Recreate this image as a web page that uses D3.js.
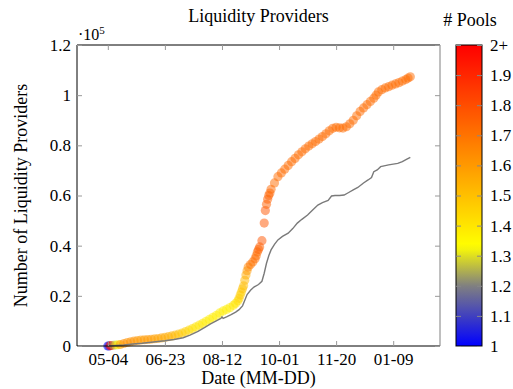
<!DOCTYPE html>
<html>
<head>
<meta charset="utf-8">
<script src="https://cdn.jsdelivr.net/npm/d3@7"></script>
<style>
  body { margin: 0; background: #fff; }
</style>
</head>
<body>
<svg id="chart"></svg>
<script>
// Canvas size
const width = 513;
const height = 389;
const serif = '"Liberation Serif", "Times New Roman", serif';

// Liquidity providers over time (scatter, coloured by pools per provider)
const lpDates = ["2020-05-04","2020-05-05","2020-05-06","2020-05-07","2020-05-09","2020-05-11","2020-05-13","2020-05-15",
  "2020-05-18","2020-05-21","2020-05-24","2020-05-27","2020-05-30","2020-06-02","2020-06-05","2020-06-08","2020-06-11",
  "2020-06-14","2020-06-17","2020-06-20","2020-06-23","2020-06-26","2020-06-29","2020-07-02","2020-07-05","2020-07-08",
  "2020-07-11","2020-07-14","2020-07-17","2020-07-20","2020-07-23","2020-07-26","2020-07-29","2020-08-01","2020-08-04",
  "2020-08-07","2020-08-10","2020-08-13","2020-08-16","2020-08-19","2020-08-22","2020-08-24","2020-08-26","2020-08-27",
  "2020-08-28","2020-08-29","2020-08-30","2020-08-31","2020-09-01","2020-09-02","2020-09-03","2020-09-04","2020-09-06",
  "2020-09-08","2020-09-10","2020-09-11","2020-09-12","2020-09-13","2020-09-14","2020-09-16","2020-09-18","2020-09-19",
  "2020-09-20","2020-09-21","2020-09-22","2020-09-23","2020-09-24","2020-09-27","2020-09-30","2020-10-03","2020-10-06",
  "2020-10-09","2020-10-12","2020-10-15","2020-10-18","2020-10-21","2020-10-24","2020-10-27","2020-10-30","2020-11-02",
  "2020-11-05","2020-11-08","2020-11-11","2020-11-14","2020-11-17","2020-11-20","2020-11-23","2020-11-26","2020-11-29",
  "2020-12-02","2020-12-05","2020-12-08","2020-12-11","2020-12-14","2020-12-17","2020-12-20","2020-12-23","2020-12-25",
  "2020-12-27","2020-12-30","2021-01-02","2021-01-05","2021-01-08","2021-01-11","2021-01-14","2021-01-17","2021-01-20",
  "2021-01-22","2021-01-24"];
// values in units of 10^5
const lpCounts = [0.000,0.000,0.001,0.002,0.003,0.004,0.005,0.006,
  0.010,0.014,0.017,0.020,0.022,0.024,0.025,0.026,0.027,
  0.029,0.030,0.032,0.034,0.037,0.040,0.043,0.047,0.051,
  0.057,0.063,0.069,0.076,0.083,0.090,0.098,0.106,0.114,
  0.122,0.132,0.140,0.146,0.153,0.162,0.170,0.180,0.190,
  0.203,0.215,0.228,0.240,0.262,0.283,0.300,0.315,0.325,
  0.335,0.348,0.360,0.375,0.385,0.395,0.420,0.490,0.540,
  0.565,0.585,0.600,0.610,0.625,0.650,0.675,0.690,0.705,
  0.720,0.735,0.748,0.762,0.774,0.786,0.797,0.806,0.815,
  0.825,0.835,0.846,0.858,0.868,0.872,0.870,0.869,0.874,
  0.886,0.900,0.918,0.935,0.949,0.962,0.975,0.988,1.000,
  1.013,1.022,1.029,1.034,1.040,1.045,1.050,1.056,1.062,
  1.068,1.073];
const lpPools = [1.0,1.05,2.0,1.9,1.25,1.3,1.35,1.6,
  1.62,1.62,1.62,1.62,1.6,1.6,1.6,1.6,1.6,
  1.58,1.58,1.57,1.56,1.55,1.53,1.52,1.5,1.48,
  1.46,1.44,1.42,1.4,1.4,1.4,1.38,1.38,1.38,
  1.38,1.38,1.38,1.38,1.38,1.4,1.4,1.42,1.45,
  1.48,1.45,1.5,1.5,1.52,1.55,1.6,1.65,1.7,
  1.7,1.72,1.72,1.72,1.75,1.75,1.78,1.78,1.78,
  1.75,1.75,1.75,1.74,1.73,1.72,1.72,1.72,1.72,
  1.72,1.72,1.72,1.72,1.72,1.72,1.72,1.72,1.72,
  1.72,1.72,1.72,1.72,1.72,1.72,1.72,1.72,1.72,
  1.72,1.72,1.72,1.72,1.72,1.72,1.72,1.72,1.72,
  1.72,1.72,1.72,1.72,1.72,1.72,1.72,1.72,1.72,
  1.72,1.72];

// Gray reference line
const otherDates = ["2020-05-04","2020-05-11","2020-05-18","2020-05-26","2020-06-03","2020-06-13","2020-06-23","2020-07-01",
  "2020-07-09","2020-07-15","2020-07-22","2020-07-28","2020-08-02","2020-08-07","2020-08-11","2020-08-12","2020-08-13",
  "2020-08-16","2020-08-20","2020-08-24","2020-08-27","2020-08-30","2020-09-01","2020-09-03","2020-09-06","2020-09-09",
  "2020-09-13","2020-09-16","2020-09-18","2020-09-20","2020-09-22","2020-09-24","2020-09-27","2020-09-30","2020-10-04",
  "2020-10-09","2020-10-13","2020-10-17","2020-10-21","2020-10-26","2020-10-30","2020-11-04","2020-11-08","2020-11-13",
  "2020-11-16","2020-11-19","2020-11-23","2020-11-27","2020-12-01","2020-12-05","2020-12-09","2020-12-14","2020-12-18",
  "2020-12-21","2020-12-23","2020-12-26","2020-12-29","2021-01-01","2021-01-05","2021-01-09","2021-01-13","2021-01-17",
  "2021-01-21","2021-01-24"];
const otherCounts = [0.000,0.002,0.004,0.008,0.011,0.016,0.021,0.026,
  0.033,0.043,0.058,0.074,0.088,0.100,0.110,0.116,0.110,
  0.116,0.125,0.135,0.145,0.160,0.182,0.205,0.222,0.235,
  0.245,0.258,0.290,0.330,0.360,0.383,0.405,0.423,0.437,
  0.450,0.468,0.490,0.505,0.522,0.540,0.562,0.572,0.580,
  0.598,0.600,0.600,0.602,0.612,0.622,0.632,0.650,0.662,
  0.672,0.695,0.702,0.715,0.718,0.722,0.725,0.728,0.735,
  0.745,0.752];

// Axis ticks
const xTickDates = ["2020-05-04","2020-06-23","2020-08-12","2020-10-01","2020-11-20","2021-01-09"];
const yTickValues = [0, 0.2, 0.4, 0.6, 0.8, 1, 1.2];
const cbTickValues = [1, 1.1, 1.2, 1.3, 1.4, 1.5, 1.6, 1.7, 1.8, 1.9, 2];
const cbStops = [1, 1.2, 1.333, 1.667, 2];
const cbColors = ["#0000ff", "#808080", "#ffff00", "#ff8000", "#ff0000"];

const parse = d3.utcParse("%Y-%m-%d");

// Plot area
const plot = { left: 77, right: 440, top: 45, bottom: 346 };
const cb = { left: 456, right: 482 };

const svg = d3.select("#chart")
    .attr("width", width)
    .attr("height", height)
    .style("font-family", serif);

const xScale = d3.scaleUtc()
    .domain([parse("2020-04-07"), parse("2021-02-19")])
    .range([plot.left, plot.right]);

const yScale = d3.scaleLinear()
    .domain([0, 1.2])
    .range([plot.bottom, plot.top]);

const colorScale = d3.scaleLinear()
    .domain(cbStops)
    .range(cbColors)
    .clamp(true);

const fmt = d3.utcFormat("%m-%d");
const tickFont = 17;
const labelFont = 18;

// style axis text the same way everywhere
function styleAxis(g, tickColor) {
    g.attr("font-family", null).attr("font-size", null);
    g.select(".domain").remove();
    g.selectAll(".tick line").attr("stroke", tickColor);
    g.selectAll(".tick text")
        .attr("fill", "#000")
        .style("font-family", serif)
        .style("font-size", tickFont + "px");
}

// Scatter points
const lpData = lpDates.map((d, i) => ({ date: parse(d), v: lpCounts[i], p: lpPools[i] }));
svg.append("g")
    .selectAll("circle")
    .data(lpData)
    .join("circle")
    .attr("cx", d => xScale(d.date))
    .attr("cy", d => yScale(d.v))
    .attr("r", 4.6)
    .attr("fill", d => colorScale(d.p))
    .attr("fill-opacity", 0.5);

// Gray line
const otherData = otherDates.map((d, i) => ({ date: parse(d), v: otherCounts[i] }));
svg.append("path")
    .datum(otherData)
    .attr("fill", "none")
    .attr("stroke", "#7a7a7a")
    .attr("stroke-width", 1.4)
    .attr("d", d3.line()
        .x(d => xScale(d.date))
        .y(d => yScale(d.v))
    );

// Frame: left/bottom/top black, right gray
const frame = svg.append("g");
frame.append("line").attr("x1", plot.left).attr("x2", plot.left).attr("y1", plot.top).attr("y2", plot.bottom)
    .attr("stroke", "#000");
frame.append("line").attr("x1", plot.left).attr("x2", plot.right).attr("y1", plot.bottom).attr("y2", plot.bottom)
    .attr("stroke", "#000");
frame.append("line").attr("x1", plot.left).attr("x2", plot.right).attr("y1", plot.top).attr("y2", plot.top)
    .attr("stroke", "#000");
frame.append("line").attr("x1", plot.right).attr("x2", plot.right).attr("y1", plot.top).attr("y2", plot.bottom)
    .attr("stroke", "#808080");

// X axis (ticks inside, mirrored at top)
svg.append("g")
    .attr("transform", `translate(0, ${plot.bottom})`)
    .call(d3.axisBottom(xScale)
        .tickValues(xTickDates.map(parse))
        .tickFormat(fmt)
        .tickSizeInner(-5)
        .tickSizeOuter(0)
        .tickPadding(7))
    .call(g => styleAxis(g, "#999"));

svg.append("g")
    .attr("transform", `translate(0, ${plot.top})`)
    .call(d3.axisTop(xScale)
        .tickValues(xTickDates.map(parse))
        .tickFormat("")
        .tickSizeInner(-5)
        .tickSizeOuter(0))
    .call(g => styleAxis(g, "#999"));

// Y axis
svg.append("g")
    .attr("transform", `translate(${plot.left}, 0)`)
    .call(d3.axisLeft(yScale)
        .tickValues(yTickValues)
        .tickFormat(d3.format("~g"))
        .tickSizeInner(-5)
        .tickSizeOuter(0)
        .tickPadding(6))
    .call(g => styleAxis(g, "#999"));

svg.append("g")
    .attr("transform", `translate(${plot.right}, 0)`)
    .call(d3.axisRight(yScale)
        .tickValues(yTickValues)
        .tickFormat("")
        .tickSizeInner(-5)
        .tickSizeOuter(0))
    .call(g => styleAxis(g, "#999"));

// Exponent label
const expo = svg.append("text")
    .attr("x", 78)
    .attr("y", 40)
    .style("font-size", "16px");
expo.append("tspan").text("·10");
expo.append("tspan").style("font-size", "11px").attr("dy", -6).text("5");

// Title and axis labels
svg.append("text")
    .attr("x", (plot.left + plot.right) / 2)
    .attr("y", 22)
    .attr("text-anchor", "middle")
    .style("font-size", labelFont + "px")
    .text("Liquidity Providers");

svg.append("text")
    .attr("x", (plot.left + plot.right) / 2)
    .attr("y", 384)
    .attr("text-anchor", "middle")
    .style("font-size", labelFont + "px")
    .text("Date (MM-DD)");

svg.append("text")
    .attr("transform", `translate(27, ${(plot.top + plot.bottom) / 2}) rotate(-90)`)
    .attr("text-anchor", "middle")
    .style("font-size", labelFont + "px")
    .text("Number of Liquidity Providers");

// Colorbar
const cbScale = d3.scaleLinear()
    .domain([1, 2])
    .range([plot.bottom, plot.top]);

const grad = svg.append("defs").append("linearGradient")
    .attr("id", "cbgrad")
    .attr("x1", 0).attr("y1", 1).attr("x2", 0).attr("y2", 0);
d3.range(0, 1.0001, 0.02).forEach(t => {
    grad.append("stop")
        .attr("offset", t)
        .attr("stop-color", colorScale(1 + t));
});

svg.append("rect")
    .attr("x", cb.left)
    .attr("y", plot.top)
    .attr("width", cb.right - cb.left)
    .attr("height", plot.bottom - plot.top)
    .attr("fill", "url(#cbgrad)")
    .attr("stroke", "#000");

svg.append("g")
    .attr("transform", `translate(${cb.right}, 0)`)
    .call(d3.axisRight(cbScale)
        .tickValues(cbTickValues)
        .tickFormat(d => d === 2 ? "2+" : d3.format("~g")(d))
        .tickSizeInner(-5)
        .tickSizeOuter(0)
        .tickPadding(8))
    .call(g => styleAxis(g, "#888"));

svg.append("g")
    .attr("transform", `translate(${cb.left}, 0)`)
    .call(d3.axisLeft(cbScale)
        .tickValues(cbTickValues)
        .tickFormat("")
        .tickSizeInner(-5)
        .tickSizeOuter(0))
    .call(g => styleAxis(g, "#888"));

svg.append("text")
    .attr("x", 470)
    .attr("y", 26)
    .attr("text-anchor", "middle")
    .style("font-size", labelFont + "px")
    .text("# Pools");
</script>
</body>
</html>
